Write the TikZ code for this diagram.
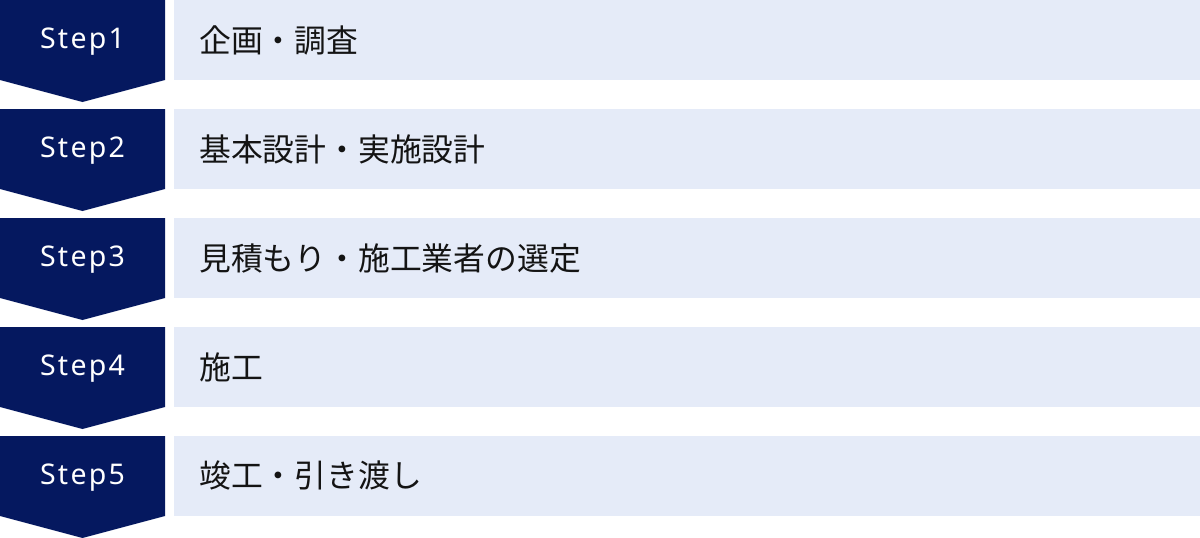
\documentclass[tikz,border=0pt]{standalone}
\usepackage{fontspec}
\setmainfont{Noto Sans}
\newfontfamily\jpfont{Noto Sans CJK JP}
\newfontfamily\stepfont[LetterSpace=8]{Noto Sans}
\definecolor{navy}{HTML}{05185F}
\definecolor{paleblue}{HTML}{E5EBF8}
\definecolor{ink}{HTML}{141414}
\begin{document}
\begin{tikzpicture}[x=1pt,y=-1pt,
  stepshape/.style={fill=navy,draw=none},
  bar/.style={fill=paleblue,draw=none},
  steplabel/.style={text=white,font=\stepfont\fontsize{28.5}{30}\selectfont,inner sep=0pt,anchor=center},
  barlabel/.style={text=ink,font=\jpfont\fontsize{31.8}{34}\selectfont,inner sep=0pt,anchor=west}]
\useasboundingbox (0,0) rectangle (1200,538);
\foreach \i/\txt in {1/企画・調査,2/基本設計・実施設計,3/見積もり・施工業者の選定,4/施工,5/竣工・引き渡し}{
  \pgfmathsetmacro{\top}{(\i-1)*109}
  \fill[stepshape] (0,\top) -- (165,\top) -- (165,\top+80) -- (82.5,\top+102) -- (0,\top+80) -- cycle;
  \fill[bar] (174,\top) rectangle (1200,\top+80);
  \node[steplabel] (s\i) at (82.5,\top+42) {Step\i};
  \node[barlabel] (t\i) at (199,\top+40) {\txt};
}
\end{tikzpicture}
\end{document}
